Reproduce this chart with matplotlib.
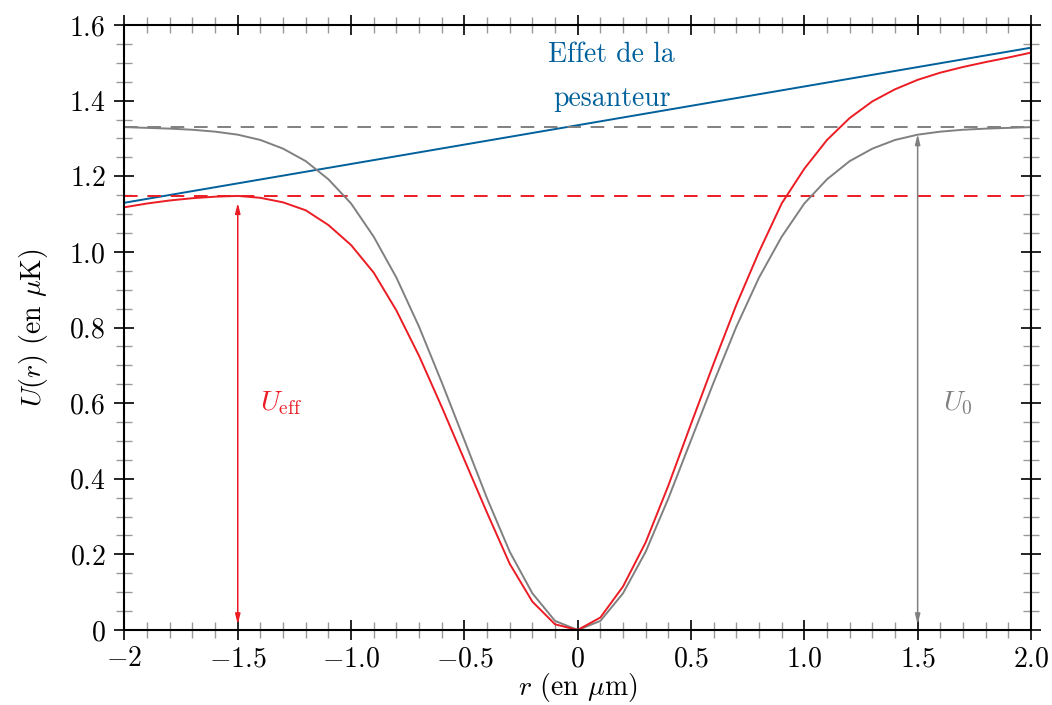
import numpy as np
import matplotlib
matplotlib.use("Agg")
import matplotlib.pyplot as plt
from matplotlib.ticker import MultipleLocator, FixedLocator, FixedFormatter

plt.rcParams['font.family'] = 'serif'
plt.rcParams['font.serif'] = ['cmr10']
plt.rcParams['mathtext.fontset'] = 'cm'
plt.rcParams['axes.unicode_minus'] = False

# data (r in um, U in uK)
r = [-2.0, -1.9, -1.8, -1.7, -1.6, -1.5, -1.4, -1.3, -1.2, -1.1, -1.0,
     -0.9, -0.8, -0.7, -0.6, -0.5, -0.4, -0.3, -0.2, -0.1, 0.0,
     0.1, 0.2, 0.3, 0.4, 0.5, 0.6, 0.7, 0.8, 0.9, 1.0,
     1.1, 1.2, 1.3, 1.4, 1.5, 1.6, 1.7, 1.8, 1.9, 2.0]
u_trap = [1.330, 1.328, 1.326, 1.323, 1.318, 1.310, 1.296, 1.273, 1.240, 1.192, 1.128,
          1.040, 0.932, 0.802, 0.655, 0.502, 0.348, 0.207, 0.097, 0.024, 0.0,
          0.024, 0.097, 0.207, 0.348, 0.502, 0.655, 0.802, 0.932, 1.040, 1.128,
          1.192, 1.240, 1.273, 1.296, 1.310, 1.318, 1.323, 1.326, 1.328, 1.330]
u_eff = [1.118, 1.128, 1.136, 1.142, 1.146, 1.148, 1.143, 1.131, 1.110, 1.071, 1.018,
         0.945, 0.845, 0.725, 0.590, 0.450, 0.310, 0.175, 0.075, 0.015, 0.0,
         0.033, 0.115, 0.232, 0.382, 0.545, 0.705, 0.860, 1.000, 1.128, 1.220,
         1.296, 1.354, 1.398, 1.430, 1.455, 1.474, 1.489, 1.502, 1.514, 1.527]
grav_r = [-2.0, 2.0]
grav_u = [1.13, 1.54]
U0 = 1.33
Ueff_max = 1.148

xticks = [-2, -1.5, -1.0, -0.5, 0, 0.5, 1.0, 1.5, 2.0]
xlabels = ['$-2$', '$-1.5$', '$-1.0$', '$-0.5$', '$0$', '$0.5$', '$1.0$', '$1.5$', '$2.0$']
yticks = [0, 0.2, 0.4, 0.6, 0.8, 1.0, 1.2, 1.4, 1.6]
ylabels = ['$0$', '$0.2$', '$0.4$', '$0.6$', '$0.8$', '$1.0$', '$1.2$', '$1.4$', '$1.6$']

red = '#ec1c24'
grey = '#808080'
blue = '#00609c'

fig = plt.figure(figsize=(10.52, 7.05), dpi=100)
ax = fig.add_axes([0.1183, 0.1064, 0.8617, 0.8581])

ax.plot(grav_r, grav_u, color=blue, lw=1.4)
ax.axhline(U0, color=grey, lw=1.4, ls=(0, (7, 5)))
ax.axhline(Ueff_max, color=red, lw=1.4, ls=(0, (7, 5)))
ax.plot(r, u_trap, color=grey, lw=1.4)
ax.plot(r, u_eff, color=red, lw=1.4)

ax.annotate('', xy=(-1.5, 0), xytext=(-1.5, Ueff_max),
            arrowprops=dict(arrowstyle='<|-|>,head_length=0.6,head_width=0.15',
                            color=red, lw=1.1, shrinkA=5, shrinkB=4))
ax.annotate('', xy=(1.5, 0), xytext=(1.5, U0),
            arrowprops=dict(arrowstyle='<|-|>,head_length=0.6,head_width=0.15',
                            color=grey, lw=1.1, shrinkA=5, shrinkB=4))

ax.text(-1.40, 0.6, r'$U_{\mathrm{eff}}$', color=red, fontsize=20, ha='left', va='center')
ax.text(1.61, 0.6, r'$U_0$', color=grey, fontsize=20, ha='left', va='center')
ax.text(0.15, 1.52, 'Effet de la', color=blue, fontsize=20, ha='center', va='center')
ax.text(0.15, 1.405, 'pesanteur', color=blue, fontsize=20, ha='center', va='center')

ax.set_xlim(-2, 2)
ax.set_ylim(0, 1.6)
ax.xaxis.set_major_locator(FixedLocator(xticks))
ax.xaxis.set_major_formatter(FixedFormatter(xlabels))
ax.yaxis.set_major_locator(FixedLocator(yticks))
ax.yaxis.set_major_formatter(FixedFormatter(ylabels))
ax.xaxis.set_minor_locator(MultipleLocator(0.1))
ax.yaxis.set_minor_locator(MultipleLocator(0.05))

ax.tick_params(which='major', direction='inout', length=15, width=1.2, color='black',
               top=True, right=True, labelsize=20)
ax.tick_params(which='minor', direction='inout', length=11, width=1.0, color='#999999',
               top=True, right=True)
ax.tick_params(axis='x', which='major', pad=4)
ax.tick_params(axis='y', which='major', pad=6)
for s in ax.spines.values():
    s.set_linewidth(1.5)

ax.set_xlabel(r'$r$ (en $\mu$m)', fontsize=20, labelpad=-1)
ax.set_ylabel(r'$U(r)$ (en $\mu$K)', fontsize=20, labelpad=14)

fig.savefig('out.png', dpi=100)
